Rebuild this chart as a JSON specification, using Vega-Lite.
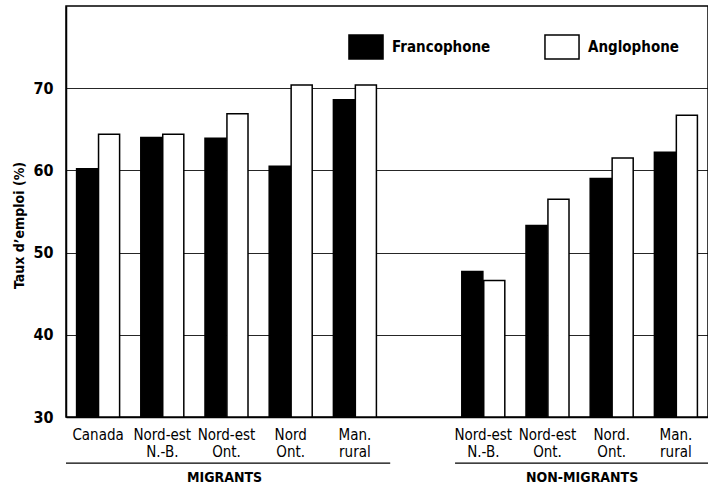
{
  "$schema": "https://vega.github.io/schema/vega-lite/v6.json",
  "autosize": {"type": "none"},
  "padding": {"left": 66, "top": 6, "right": 0, "bottom": 70},
  "width": 642,
  "height": 411,
  "config": {
    "font": "DejaVu Sans Condensed, Liberation Sans, sans-serif",
    "view": {"stroke": "black", "strokeWidth": 1.5}
  },
  "datasets": {
    "bars": [
      {"cat": "Canada", "langue": "Francophone", "taux": 60.2},
      {"cat": "Canada", "langue": "Anglophone", "taux": 64.4},
      {"cat": "Nord-est|N.-B.", "langue": "Francophone", "taux": 64.0},
      {"cat": "Nord-est|N.-B.", "langue": "Anglophone", "taux": 64.4},
      {"cat": "Nord-est|Ont.", "langue": "Francophone", "taux": 63.9},
      {"cat": "Nord-est|Ont.", "langue": "Anglophone", "taux": 66.9},
      {"cat": "Nord|Ont.", "langue": "Francophone", "taux": 60.5},
      {"cat": "Nord|Ont.", "langue": "Anglophone", "taux": 70.4},
      {"cat": "Man.|rural", "langue": "Francophone", "taux": 68.6},
      {"cat": "Man.|rural", "langue": "Anglophone", "taux": 70.4},
      {"cat": "Nord-est|N.-B. ", "langue": "Francophone", "taux": 47.7},
      {"cat": "Nord-est|N.-B. ", "langue": "Anglophone", "taux": 46.6},
      {"cat": "Nord-est|Ont. ", "langue": "Francophone", "taux": 53.3},
      {"cat": "Nord-est|Ont. ", "langue": "Anglophone", "taux": 56.5},
      {"cat": "Nord.|Ont.", "langue": "Francophone", "taux": 59.0},
      {"cat": "Nord.|Ont.", "langue": "Anglophone", "taux": 61.5},
      {"cat": "Man.|rural ", "langue": "Francophone", "taux": 62.2},
      {"cat": "Man.|rural ", "langue": "Anglophone", "taux": 66.7}
    ],
    "groups": [
      {"groupe": "MIGRANTS", "debut": 0, "fin": 5.05, "milieu": 2.47, "yl": 24.4, "yt": 22.6},
      {"groupe": "NON-MIGRANTS", "debut": 6.06, "fin": 10, "milieu": 8.04, "yl": 24.4, "yt": 22.6}
    ]
  },
  "layer": [
    {
      "data": {"name": "bars"},
      "mark": {"type": "bar", "stroke": "black", "strokeWidth": 1.5},
      "encoding": {
        "x": {
          "field": "cat",
          "type": "nominal",
          "sort": null,
          "scale": {
            "domain": ["Canada", "Nord-est|N.-B.", "Nord-est|Ont.", "Nord|Ont.", "Man.|rural", " ", "Nord-est|N.-B. ", "Nord-est|Ont. ", "Nord.|Ont.", "Man.|rural "],
            "paddingInner": 0.33,
            "paddingOuter": 0.165
          },
          "axis": {
            "title": null,
            "labelAngle": 0,
            "labelExpr": "split(datum.value, '|')",
            "labelFontSize": 15,
            "labelLineHeight": 17,
            "labelColor": "black",
            "labelPadding": 10,
            "ticks": false,
            "domainColor": "black",
            "domainWidth": 1.5
          }
        },
        "xOffset": {
          "field": "langue",
          "type": "nominal",
          "sort": ["Francophone", "Anglophone"],
          "scale": {"paddingInner": 0.04}
        },
        "y": {
          "field": "taux",
          "type": "quantitative",
          "scale": {"domain": [30, 80], "nice": false, "zero": false},
          "axis": {
            "title": "Taux d’emploi (%)",
            "titleFontSize": 14,
            "titleFontWeight": "bold",
            "titleColor": "black",
            "titlePadding": 6,
            "titleY": 219,
            "values": [30, 40, 50, 60, 70],
            "ticks": false,
            "labelFontSize": 16,
            "labelFontWeight": "bold",
            "labelColor": "black",
            "labelPadding": 13,
            "domainColor": "black",
            "domainWidth": 1.5,
            "grid": true,
            "gridColor": "black",
            "gridWidth": 1,
            "gridOpacity": 0.85
          }
        },
        "y2": {"datum": 30},
        "fill": {
          "field": "langue",
          "type": "nominal",
          "sort": ["Francophone", "Anglophone"],
          "scale": {"domain": ["Francophone", "Anglophone"], "range": ["black", "white"]},
          "legend": {
            "title": null,
            "orient": "none",
            "legendX": 282,
            "legendY": 23,
            "direction": "horizontal",
            "columns": 2,
            "columnPadding": 50,
            "symbolType": "M-1,-0.7H1V0.7H-1Z",
            "symbolSize": 1160,
            "symbolStrokeColor": "black",
            "symbolStrokeWidth": 1.5,
            "labelFontSize": 15,
            "labelFontWeight": "bold",
            "labelColor": "black",
            "labelOffset": 8
          }
        }
      }
    },
    {
      "data": {"name": "groups"},
      "mark": {"type": "rule", "color": "black", "strokeWidth": 1.2},
      "encoding": {
        "x": {"field": "debut", "type": "quantitative", "scale": {"domain": [0, 10], "nice": false}, "axis": null},
        "x2": {"field": "fin"},
        "y": {"field": "yl", "type": "quantitative"}
      }
    },
    {
      "data": {"name": "groups"},
      "mark": {"type": "text", "fontWeight": "bold", "fontSize": 14, "color": "black", "baseline": "middle"},
      "encoding": {
        "x": {"field": "milieu", "type": "quantitative", "scale": {"domain": [0, 10], "nice": false}, "axis": null},
        "y": {"field": "yt", "type": "quantitative"},
        "text": {"field": "groupe"}
      }
    }
  ],
  "resolve": {"scale": {"x": "independent"}}
}
